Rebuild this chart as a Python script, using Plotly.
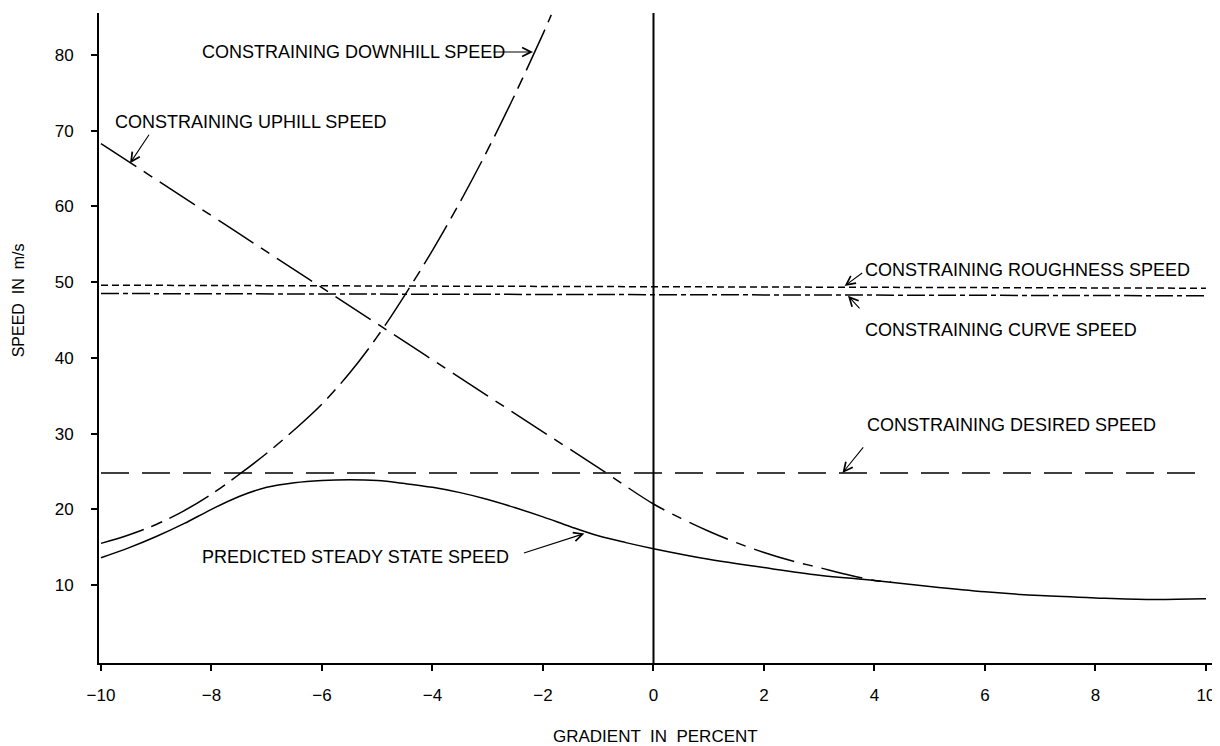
import plotly.graph_objects as go

# ---------------- data ----------------
grad_pred = [-10, -9.5, -9, -8.5, -8, -7.5, -7, -6.5, -6, -5.5, -5, -4.5, -4, -3.5, -3, -2.5, -2, -1.5, -1, -0.5,
             0, 1, 2, 3, 4, 5, 6, 7, 8, 9, 10]
speed_pred = [13.6, 14.9, 16.4, 18.1, 20.0, 21.7, 22.9, 23.5, 23.8, 23.9, 23.8, 23.4, 22.9, 22.2, 21.3, 20.2, 19.0, 17.7, 16.5, 15.6,
              14.8, 13.4, 12.3, 11.3, 10.6, 9.8, 9.1, 8.6, 8.3, 8.1, 8.2]

grad_up = [-10, -7.5, -5, -2.5, -1, 0, 0.5, 1, 1.5, 2, 2.5, 3, 3.5, 4, 4.3]
speed_up = [68.3, 56.4, 44.5, 32.6, 25.5, 20.7, 18.8, 17.1, 15.6, 14.3, 13.2, 12.3, 11.4, 10.6, 10.4]

grad_down = [-10, -9.5, -9, -8.5, -8, -7.5, -7, -6.5, -6, -5.5, -5, -4.5, -4, -3.5, -3, -2.5, -2, -1.85]
speed_down = [15.5, 16.6, 18.0, 19.8, 22.0, 24.6, 27.4, 30.5, 33.9, 38.0, 42.8, 48.3, 54.2, 60.6, 67.5, 74.9, 82.8, 85.3]

grad_flat = [-10, 10]
speed_rough = [49.6, 49.2]
speed_curve = [48.5, 48.2]
speed_desired = [24.8, 24.8]

x_ticks = [-10, -8, -6, -4, -2, 0, 2, 4, 6, 8, 10]
x_ticktext = ["\u221210", "\u22128", "\u22126", "\u22124", "\u22122", "0", "2", "4", "6", "8", "10"]
y_ticks = [10, 20, 30, 40, 50, 60, 70, 80]

FONT = "Liberation Sans"
LW = 1.5

fig = go.Figure()

def add_line(x, y, dash, shape="spline"):
    fig.add_trace(go.Scatter(x=x, y=y, mode="lines",
                             line=dict(color="black", width=LW, dash=dash, shape=shape, smoothing=1.0),
                             showlegend=False, hoverinfo="skip"))

add_line(grad_flat, speed_rough, "7px,4px", "linear")
add_line(grad_flat, speed_curve, "18px,4px,5px,4px", "linear")
add_line(grad_flat, speed_desired, "28px,13px", "linear")
add_line(grad_up, speed_up, "42px,9px,10px,9px")
add_line(grad_down, speed_down, "45px,8px,12px,8px")
add_line(grad_pred, speed_pred, "solid")

# vertical line at zero gradient
fig.add_shape(type="line", xref="x", yref="paper", x0=0, x1=0, y0=0, y1=1,
              line=dict(color="black", width=2))

labels = [
    ("CONSTRAINING DOWNHILL SPEED", -8.2, 80.4),
    ("CONSTRAINING UPHILL SPEED", -9.78, 71.15),
    ("CONSTRAINING ROUGHNESS SPEED", 3.80, 51.6),
    ("CONSTRAINING CURVE SPEED", 3.80, 43.7),
    ("CONSTRAINING DESIRED SPEED", 3.82, 31.1),
    ("PREDICTED STEADY STATE SPEED", -8.2, 13.7),
]
for txt, x, y in labels:
    fig.add_annotation(text=txt, x=x, y=y, xref="x", yref="y", xanchor="left", yanchor="middle",
                       showarrow=False, font=dict(family=FONT, size=18, color="black"))

arrows = [
    (-2.18, 80.4, -41, 0),
    (-9.475, 65.7, 20, -30),
    (3.46, 49.5, 19, -14),
    (3.52, 48.2, 13, 14),
    (3.42, 24.8, 22, -27),
    (-1.25, 16.8, -62, 20),
]
for x, y, ax, ay in arrows:
    fig.add_annotation(text="", x=x, y=y, xref="x", yref="y", ax=ax, ay=ay, showarrow=True,
                       arrowhead=5, arrowsize=1.6, arrowwidth=1.1, arrowcolor="black")

fig.add_annotation(text="SPEED  IN  m/s", xref="paper", yref="paper", x=-0.0726, y=0.558,
                   textangle=-90, showarrow=False, xanchor="center", yanchor="middle",
                   font=dict(family=FONT, size=16, color="black"))
fig.add_annotation(text="GRADIENT  IN  PERCENT", xref="paper", yref="paper", x=0.4987, y=-0.1138,
                   showarrow=False, xanchor="center", yanchor="middle",
                   font=dict(family=FONT, size=17, color="black"))

fig.update_xaxes(range=[-10.036, 10.145], tickvals=x_ticks, ticktext=x_ticktext,
                 showline=True, linecolor="black", linewidth=2, ticks="outside", ticklen=6,
                 tickwidth=1.5, tickcolor="black", showgrid=False, zeroline=False,
                 ticklabelstandoff=10, tickfont=dict(family=FONT, size=17, color="black"))
fig.update_yaxes(range=[-0.3, 85.55], tickvals=y_ticks,
                 showline=True, linecolor="black", linewidth=2, ticks="outside", ticklen=6,
                 tickwidth=1.5, tickcolor="black", showgrid=False, zeroline=False,
                 ticklabelstandoff=14, tickfont=dict(family=FONT, size=17, color="black"))

# the page body adds an 8px margin, so the figure is 8px smaller and margins compensate
fig.update_layout(width=1212, height=738, margin=dict(l=91, r=6, t=5, b=83),
                  paper_bgcolor="white", plot_bgcolor="white", showlegend=False)

fig.write_html("out.html")
